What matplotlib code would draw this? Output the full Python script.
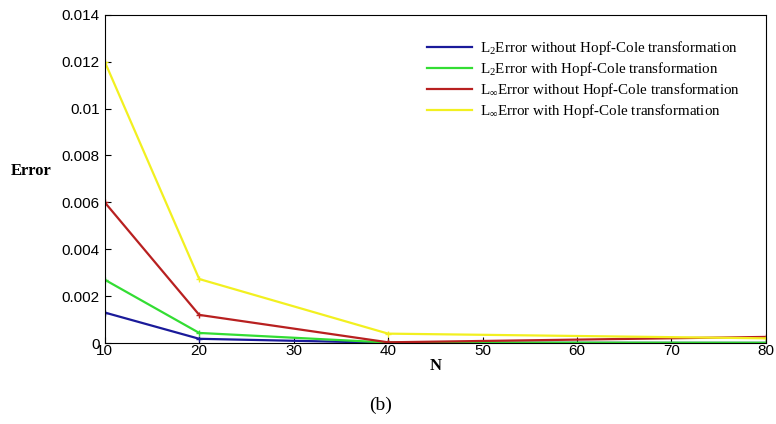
import matplotlib
matplotlib.use('Agg')
import matplotlib.pyplot as plt

N = [10, 20, 40, 80]
l2_without = [0.00130, 0.00018, 0.00001, 0.000005]
l2_with = [0.00270, 0.00043, 0.00002, 0.00001]
linf_without = [0.00600, 0.00120, 0.00003, 0.00026]
linf_with = [0.01200, 0.00273, 0.00040, 0.00020]

labels = ['L$_2$Error without Hopf-Cole transformation',
          'L$_2$Error with Hopf-Cole transformation',
          'L$_\\infty$Error without Hopf-Cole transformation',
          'L$_\\infty$Error with Hopf-Cole transformation']
colors = ['#1a1a9a', '#33dd33', '#b82020', '#f2f020']

plt.rcParams['font.family'] = 'Liberation Sans'
plt.rcParams['mathtext.fontset'] = 'custom'
plt.rcParams['mathtext.rm'] = 'Liberation Serif'
plt.rcParams['mathtext.it'] = 'Liberation Serif:italic'

fig = plt.figure(figsize=(7.76, 4.24), dpi=100)
ax = fig.add_axes([0.135, 0.191, 0.852, 0.774])

for ys, c, lab in zip([l2_without, l2_with, linf_without, linf_with], colors, labels):
    ax.plot(N, ys, color=c, lw=1.6, marker='+', ms=5, label=lab)

ax.set_xlim(10, 80)
ax.set_ylim(0, 0.014)
ax.set_xticks(range(10, 81, 10))
ax.set_yticks([0, 0.002, 0.004, 0.006, 0.008, 0.01, 0.012, 0.014])
ax.set_yticklabels(['0', '0.002', '0.004', '0.006', '0.008', '0.01', '0.012', '0.014'])
ax.tick_params(direction='in', labelsize=11, length=4)
ax.tick_params(axis='x', pad=1)

ax.set_xlabel('N', fontfamily='Liberation Serif', fontweight='bold', fontsize=12, labelpad=0)
ax.set_ylabel('Error', fontfamily='Liberation Serif', fontweight='bold', fontsize=12,
              rotation=0, labelpad=0, ha='center', va='center')
ax.yaxis.set_label_coords(-0.111, 0.525)

leg = ax.legend(loc='upper left', bbox_to_anchor=(0.487, 0.927), frameon=False,
                prop={'family': 'Liberation Serif', 'size': 10.8}, handlelength=3.0,
                handletextpad=0.55, labelspacing=0.2, borderpad=0, borderaxespad=0)
for h in leg.legend_handles:
    h.set_marker('')

fig.text(0.491, 0.033, '(b)', fontfamily='Liberation Serif', fontsize=14, ha='center')

fig.savefig('out.png', dpi=100)
